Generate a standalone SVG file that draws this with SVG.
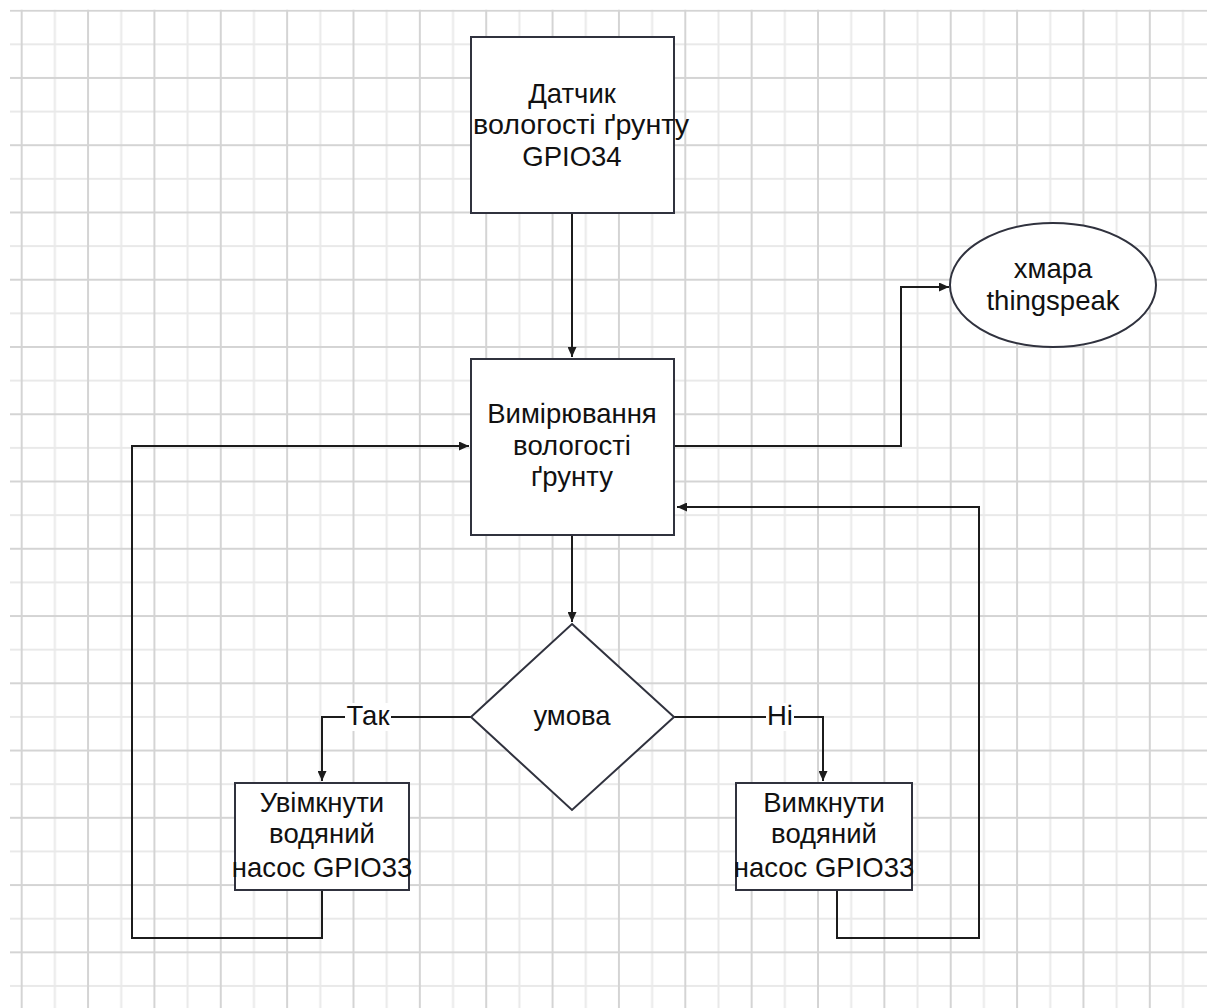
<svg xmlns="http://www.w3.org/2000/svg" width="1207" height="1008" viewBox="0 0 1207 1008">
<style>
.box{fill:#ffffff;stroke:#30323e;stroke-width:2}
.t{font-family:"Liberation Sans",Arial,sans-serif;font-size:27.5px;fill:#111111;text-anchor:middle}
.c{fill:none;stroke:#1c1c1c;stroke-width:2}
</style>
<defs>
<pattern id="grid" patternUnits="userSpaceOnUse" x="20.7" y="9.7" width="66.36" height="67.26">
<path d="M34.18,0V67.26M0,34.63H66.36" stroke="#e9e9e9" stroke-width="2" fill="none"/>
<path d="M1,0V67.26M0,1H66.36" stroke="#d4d4d4" stroke-width="2" fill="none"/>
</pattern>
<marker id="arr" markerUnits="userSpaceOnUse" markerWidth="11" markerHeight="9" refX="10" refY="4.5" orient="auto">
<path d="M0,0L10,4.5L0,9z" fill="#1c1c1c"/>
</marker>
</defs>
<rect width="1207" height="1008" fill="#ffffff"/>
<rect x="10" y="9.7" width="1197" height="998.3" fill="url(#grid)"/>
<g id="connectors">
<path class="c" d="M572,213V357" marker-end="url(#arr)"/>
<path class="c" d="M675,446H901V287H949" marker-end="url(#arr)"/>
<path class="c" d="M572,535V622" marker-end="url(#arr)"/>
<path class="c" d="M471,717H322V781" marker-end="url(#arr)"/>
<path class="c" d="M674,717H823V781" marker-end="url(#arr)"/>
<path class="c" d="M322,890V938H132V446H469" marker-end="url(#arr)"/>
<path class="c" d="M837,890V938H979V507H677" marker-end="url(#arr)"/>
<g id="label-tak">
<rect x="345" y="703" width="46" height="28" fill="#ffffff"/>
<text class="t" x="368" y="725">Так</text>
</g>
<g id="label-ni">
<rect x="766" y="703" width="28" height="28" fill="#ffffff"/>
<text class="t" x="780" y="725">Ні</text>
</g>
</g>
<g id="sensor">
<rect class="box" x="471" y="37" width="203" height="176"/>
<text class="t" x="572" y="103">Датчик</text>
<text class="t" x="581" y="134" textLength="216" lengthAdjust="spacingAndGlyphs">вологості ґрунту</text>
<text class="t" x="572" y="166">GPIO34</text>
</g>
<g id="measure">
<rect class="box" x="471" y="359" width="203" height="176"/>
<text class="t" x="572" y="423">Вимірювання</text>
<text class="t" x="572" y="455">вологості</text>
<text class="t" x="572" y="486">ґрунту</text>
</g>
<g id="cloud">
<ellipse class="box" cx="1053" cy="285" rx="103" ry="62"/>
<text class="t" x="1053" y="278">хмара</text>
<text class="t" x="1053" y="310">thingspeak</text>
</g>
<g id="condition">
<path class="box" d="M572,624L674,717L572,810L471,717z"/>
<text class="t" x="572" y="725">умова</text>
</g>
<g id="pump-on">
<rect class="box" x="235" y="783" width="174" height="107"/>
<text class="t" x="322" y="812">Увімкнути</text>
<text class="t" x="322" y="843">водяний</text>
<text class="t" x="322" y="877">насос GPIO33</text>
</g>
<g id="pump-off">
<rect class="box" x="736" y="783" width="176" height="107"/>
<text class="t" x="824" y="812">Вимкнути</text>
<text class="t" x="824" y="843">водяний</text>
<text class="t" x="824" y="877">насос GPIO33</text>
</g>
</svg>
